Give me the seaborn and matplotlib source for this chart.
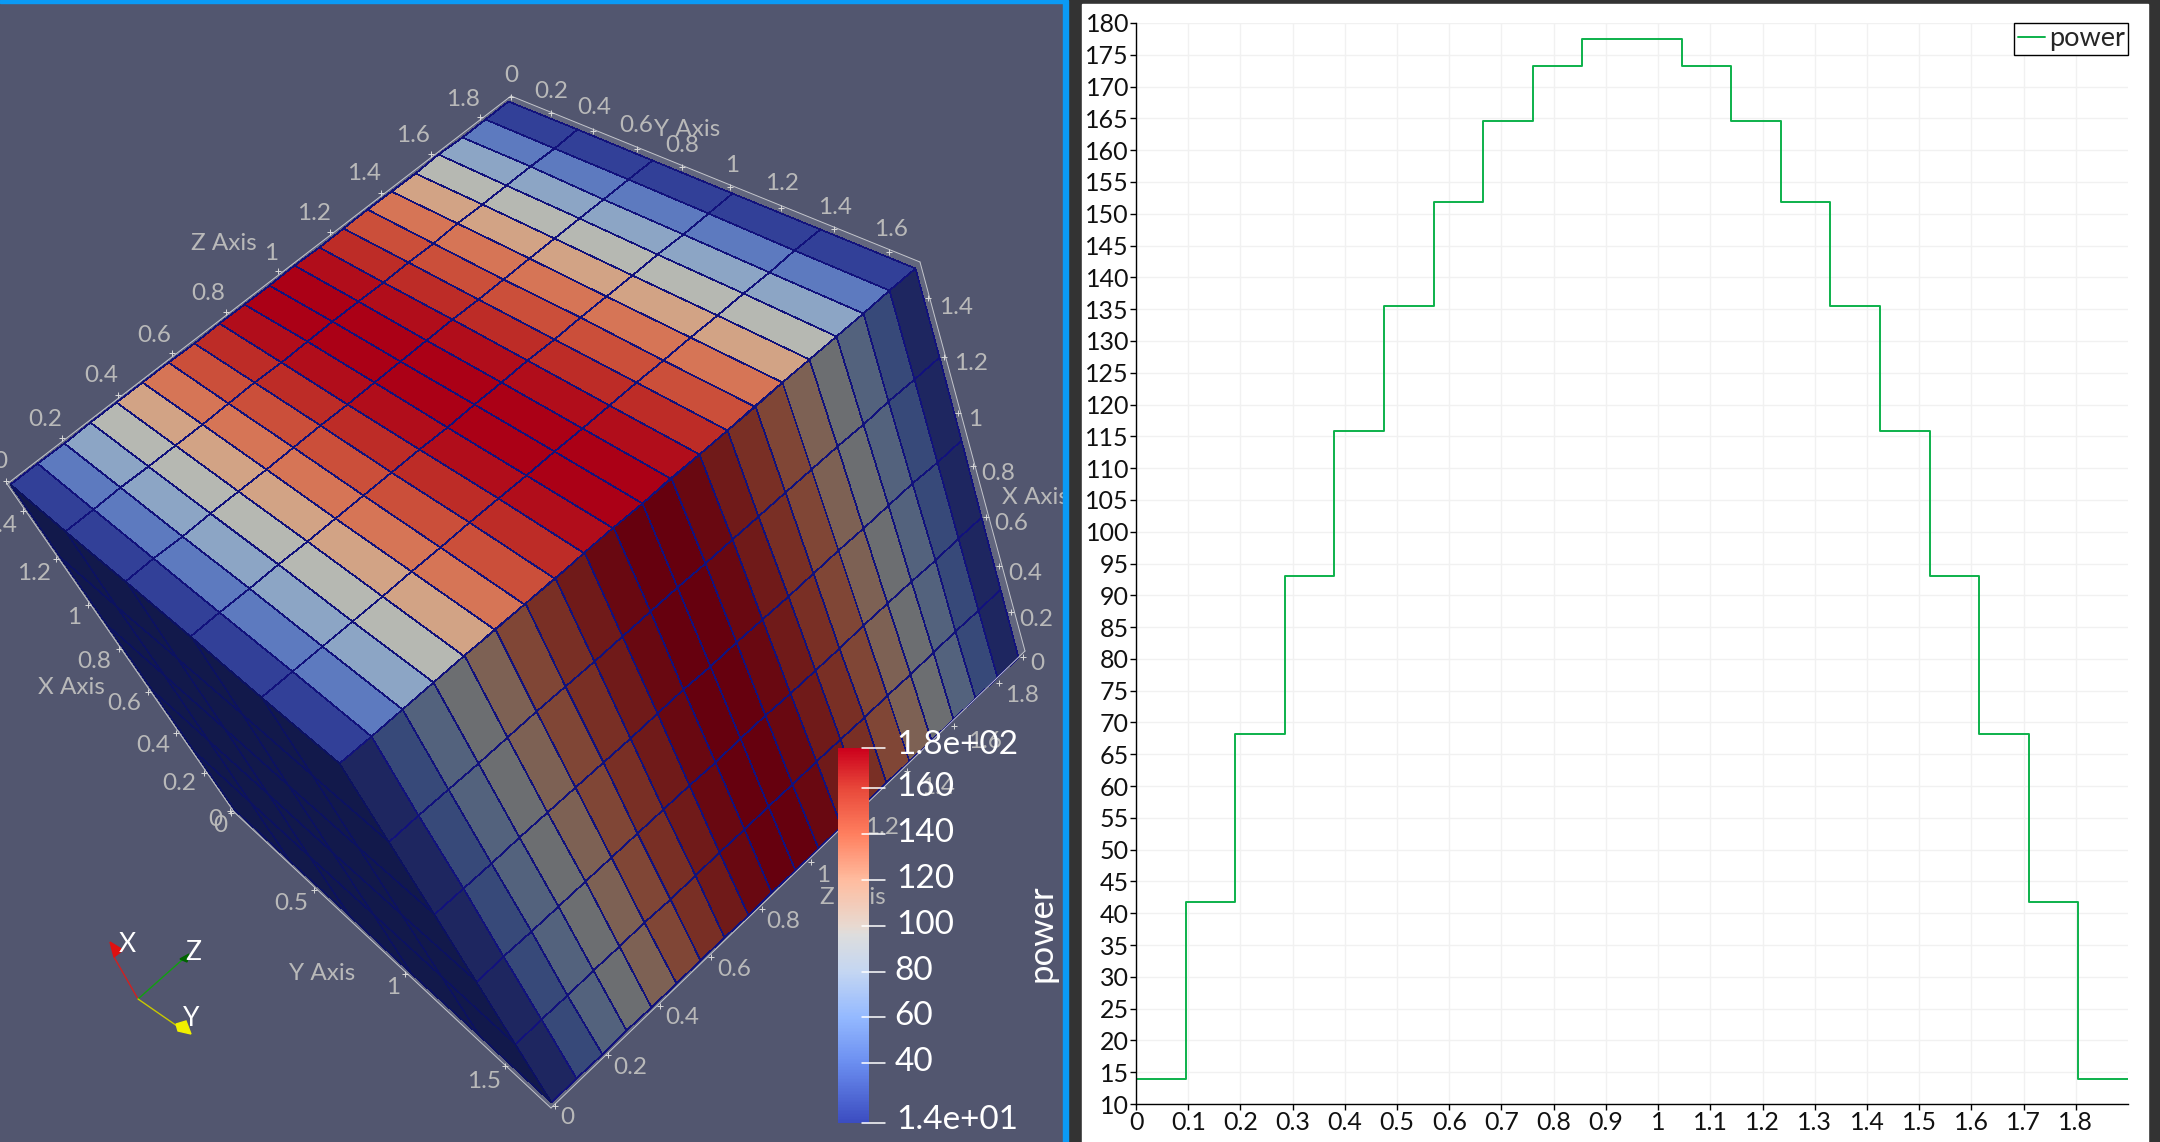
# power profile: paraview style view on the left, line plot on the right
import matplotlib
matplotlib.use("Agg")
import matplotlib.pyplot as plt
from matplotlib.cm import ScalarMappable
from matplotlib.colors import LinearSegmentedColormap, ListedColormap, Normalize
from matplotlib.patches import Polygon, Rectangle
import numpy as np
import pandas as pd
import seaborn as sns

# power along the z axis, one level per cell
step_edges = [0, 0.095, 0.19, 0.285, 0.38, 0.475, 0.57, 0.665, 0.76, 0.855, 0.95,
              1.045, 1.14, 1.235, 1.33, 1.425, 1.52, 1.615, 1.71, 1.805, 1.9]
power = [14, 41.7, 68.2, 93, 115.8, 135.5, 151.9, 164.6, 173.2, 177.5, 177.5,
         173.2, 164.6, 151.9, 135.5, 115.8, 93, 68.2, 41.7, 14]

y_ticks = list(range(10, 181, 5))
x_ticks = [0, 0.1, 0.2, 0.3, 0.4, 0.5, 0.6, 0.7, 0.8, 0.9, 1, 1.1, 1.2, 1.3, 1.4, 1.5, 1.6, 1.7, 1.8]
x_labels = ["0", "0.1", "0.2", "0.3", "0.4", "0.5", "0.6", "0.7", "0.8", "0.9", "1",
            "1.1", "1.2", "1.3", "1.4", "1.5", "1.6", "1.7", "1.8"]

# colour bar
cbar_values = [14, 40, 60, 80, 96, 100, 120, 140, 160, 177.5]
cbar_colors = ["#3b4cc0", "#6b8ef0", "#94b9ff", "#c4d6f2", "#dddddd", "#e8d9d0",
               "#ffbc9f", "#ff7f5f", "#e8483a", "#cc001c"]
cbar_ticks = [14, 40, 60, 80, 100, 120, 140, 160, 177.5]
cbar_labels = ["1.4e+01", "40", "60", "80", "100", "120", "140", "160", "1.8e+02"]

# the 3d box in pixels of the screenshot
A = (508, 101)
B = (915, 268)
C = (10, 484)
D = (339, 763)
E = (1018, 657)
F = (551, 1102)
G = (234, 809)

BG = "#52566f"
MESH = "#12127c"
MESH_DARK = "#0c1260"
LABEL = "#b9b9b9"

axis_lines = [((511, 96), (920, 262)), ((511, 96), (7, 484)), ((920, 262), (1025, 651)),
              ((7, 484), (234, 812)), ((234, 812), (551, 1108)), ((551, 1108), (1025, 651))]

axis_texts = [
    ("0", 511, 75), ("0.2", 551, 92), ("0.4", 594, 108), ("0.6", 636, 126), ("Y Axis", 687, 129),
    ("0.8", 682, 145), ("1", 732, 165), ("1.2", 782, 184), ("1.4", 835, 207), ("1.6", 891, 229),
    ("1.8", 463, 99), ("1.6", 413, 136), ("1.4", 364, 174), ("1.2", 314, 213), ("1", 271, 253),
    ("0.8", 208, 293), ("0.6", 154, 335), ("0.4", 101, 375), ("0.2", 45, 419), ("0", 0, 461),
    ("Z Axis", 224, 243),
    ("1.4", 956, 307), ("1.2", 971, 364), ("1", 975, 420), ("0.8", 998, 473), ("X Axis", 1035, 497),
    ("0.6", 1011, 524), ("0.4", 1025, 573), ("0.2", 1036, 619), ("0", 1037, 663),
    ("1.8", 1022, 695), ("1.6", 985, 742), ("1.4", 938, 787), ("1.2", 882, 828), ("1", 823, 875),
    ("Z Axis", 853, 897), ("0.8", 783, 921), ("0.6", 734, 969), ("0.4", 682, 1018),
    ("0.2", 630, 1068), ("0", 567, 1118),
    ("0", 215, 820), ("0", 220, 826), ("0.5", 291, 903), ("1", 393, 987), ("1.5", 484, 1082),
    ("Y Axis", 322, 973),
    ("1.4", 0, 526), ("1.2", 34, 573), ("1", 74, 617), ("0.8", 94, 662), ("X Axis", 71, 687),
    ("0.6", 124, 704), ("0.4", 153, 745), ("0.2", 179, 784),
]


def homography(corners):
    # maps the unit square (0,0) (1,0) (1,1) (0,1) on four corners
    square = [(0, 0), (1, 0), (1, 1), (0, 1)]
    a = []
    b = []
    for (u, v), (x, y) in zip(square, corners):
        a.append([u, v, 1, 0, 0, 0, -u * x, -v * x])
        a.append([0, 0, 0, u, v, 1, -u * y, -v * y])
        b += [x, y]
    h = np.linalg.solve(np.array(a, float), np.array(b, float))
    return np.append(h, 1).reshape(3, 3)


def project(h, u, v):
    w = h[2, 0] * u + h[2, 1] * v + h[2, 2]
    return (h[0, 0] * u + h[0, 1] * v + h[0, 2]) / w, (h[1, 0] * u + h[1, 1] * v + h[1, 2]) / w


def draw_face(ax, corners, cells, cmap, edge=MESH, lw=0.45):
    h = homography(corners)
    u = np.linspace(0, 1, cells.shape[1] + 1)
    v = np.linspace(0, 1, cells.shape[0] + 1)
    x, y = project(h, *np.meshgrid(u, v))
    ax.pcolormesh(x, y, cells, cmap=cmap, norm=norm, edgecolors=edge, linewidth=lw, zorder=3)


def shaded(factor):
    return ListedColormap(np.clip(power_cmap(np.linspace(0, 1, 256))[:, :3] * np.array(factor), 0, 1))


sns.set_theme(style="whitegrid")
plt.rcParams["font.family"] = ["Lato", "DejaVu Sans"]

fig = plt.figure(figsize=(21.6, 11.42), dpi=100, facecolor="#333333")

# ~~~~~~~~~ left view ~~~~~~~~~
ax3d = fig.add_axes([0, 0, 1063 / 2160, 1], facecolor=BG)
ax3d.set_xlim(0, 1063)
ax3d.set_ylim(1142, 0)
ax3d.axis("off")
ax3d.add_patch(Rectangle((0, 0), 1063, 1142, color=BG, zorder=0))

fig.add_artist(Rectangle((1063 / 2160, 0), 5 / 2160, 1, color="#0a9af5", transform=fig.transFigure))
fig.add_artist(Rectangle((0, 1 - 3 / 1142), 1063 / 2160, 3 / 1142, color="#0a9af5", transform=fig.transFigure))
fig.add_artist(Rectangle((1082 / 2160, 0), 1066 / 2160, 1138 / 1142, color="white",
                         transform=fig.transFigure, zorder=-1))

power_cmap = LinearSegmentedColormap.from_list(
    "power", [((v - 14) / 163.5, c) for v, c in zip(cbar_values, cbar_colors)])
norm = Normalize(14, 177.5)

ax3d.add_patch(Polygon([(511, 96), (920, 262), (1025, 651), (551, 1108), (234, 812), (7, 484)],
                       facecolor="#62667e", edgecolor="none", zorder=1))

power_arr = np.array(power)
draw_face(ax3d, [C, A, B, D], np.tile(power_arr, (5, 1)), shaded((0.84, 0.84, 0.79)))
draw_face(ax3d, [F, E, B, D], np.tile(power_arr, (5, 1)), shaded((0.5, 0.5, 0.5)))
draw_face(ax3d, [G, F, D, C], np.full((5, 5), 14.0), shaded((0.31, 0.33, 0.39)), edge=MESH_DARK, lw=0.4)

for p0, p1 in axis_lines:
    ax3d.plot([p0[0], p1[0]], [p0[1], p1[1]], color="#c4c6cc", lw=0.7, zorder=4)

# small tick marks on the edges, through the same perspective as the faces
top_h = homography([C, A, B, D])
right_h = homography([F, E, B, D])
left_h = homography([G, F, D, C])
for t in np.arange(0, 1.9, 0.2):
    for x, y, off in [project(top_h, t / 1.9, 0) + ((-4, -3),), project(right_h, t / 1.9, 0) + ((4, 4),)]:
        ax3d.plot(x + off[0], y + off[1], "+", color="#d8d8d8", ms=4, mew=0.7, zorder=4)
for t in np.arange(0, 1.7, 0.2):
    x, y = project(top_h, 1, t / 1.7)
    ax3d.plot(x + 3, y - 4, "+", color="#d8d8d8", ms=4, mew=0.7, zorder=4)
for t in np.arange(0, 1.5, 0.2):
    for x, y, off in [project(right_h, 1, t / 1.5) + ((5, 0),), project(left_h, 0, t / 1.5) + ((-4, 2),)]:
        ax3d.plot(x + off[0], y + off[1], "+", color="#d8d8d8", ms=4, mew=0.7, zorder=4)
for t in [0, 0.5, 1, 1.5]:
    x, y = project(left_h, t / 1.7, 0)
    ax3d.plot(x - 3, y + 4, "+", color="#d8d8d8", ms=4, mew=0.7, zorder=4)

for label, x, y in axis_texts:
    ax3d.text(x, y, label, color=LABEL, fontsize=17.5, ha="center", va="center", clip_on=True, zorder=5)

# orientation widget
ax3d.plot([138, 114], [999, 957], color="#d22020", lw=1, zorder=5)
ax3d.plot([138, 182], [999, 960], color="#10a010", lw=1, zorder=5)
ax3d.plot([138, 180], [999, 1028], color="#c8c800", lw=1, zorder=5)
ax3d.add_patch(Polygon([(110, 942), (123, 950), (114, 957)], color="#e01010", zorder=6))
ax3d.add_patch(Polygon([(180, 959), (189, 954), (187, 962)], color="#006400", zorder=6))
ax3d.add_patch(Polygon([(176, 1024), (186, 1021), (191, 1034), (178, 1031)], color="#f0f000", zorder=6))
ax3d.text(127, 945, "X", color="white", fontsize=19, ha="center", va="center", zorder=7)
ax3d.text(193, 953, "Z", color="white", fontsize=19, ha="center", va="center", zorder=7)
ax3d.text(191, 1018, "Y", color="white", fontsize=19, ha="center", va="center", zorder=7)

# colour bar
ax_cb = fig.add_axes([838 / 2160, (1142 - 1123) / 1142, 31 / 2160, 375 / 1142])
cb = fig.colorbar(ScalarMappable(norm=norm, cmap=power_cmap), cax=ax_cb)
cb.outline.set_visible(False)
cb.set_ticks([])
for value, label in zip(cbar_ticks, cbar_labels):
    ax_cb.plot([0.77, 1.52], [value, value], color="white", lw=1.1, clip_on=False,
               transform=ax_cb.get_yaxis_transform())
    left = 1.82 if len(label) == 2 else 1.88
    nudge = -3 if value in (14, 177.5) else -1
    ax_cb.annotate(label, (left, value), xycoords=ax_cb.get_yaxis_transform(), xytext=(0, -nudge),
                   textcoords="offset pixels", color="white", fontsize=24, ha="left", va="center")
fig.text(1042 / 2160, 1 - 933 / 1142, "power", color="white", fontsize=25, rotation=90,
         ha="center", va="center")

# ~~~~~~~~~ right plot ~~~~~~~~~
ax = fig.add_axes([1136 / 2160, (1142 - 1104) / 1142, 992 / 2160, 1081 / 1142], facecolor="white")
df = pd.DataFrame({"z": step_edges, "power": power + power[-1:]})
sns.lineplot(data=df, x="z", y="power", drawstyle="steps-post", color="#0db14b", lw=1.4,
             estimator=None, label="power", ax=ax)
ax.set_xlim(0, 1.9)
ax.set_ylim(10, 180)
ax.set_xticks(x_ticks)
ax.set_xticklabels(x_labels)
ax.set_yticks(y_ticks)
ax.set(xlabel="", ylabel="")
ax.grid(True, color="#f1f1f1", lw=1)
ax.tick_params(axis="both", labelsize=18, labelcolor="#111111", color="black", length=4, width=1, pad=1,
               bottom=True, left=True)
sns.despine(ax=ax)
for side in ("left", "bottom"):
    ax.spines[side].set_color("black")
    ax.spines[side].set_linewidth(1)
leg = ax.legend(loc="upper right", bbox_to_anchor=(1, 1), borderaxespad=0, fontsize=19.5, frameon=True,
                framealpha=1, edgecolor="black", fancybox=False, handlelength=1.0, handletextpad=0.15,
                borderpad=0.12)
leg.get_frame().set_linewidth(1)

fig.savefig("out.png", dpi=100, facecolor=fig.get_facecolor())
